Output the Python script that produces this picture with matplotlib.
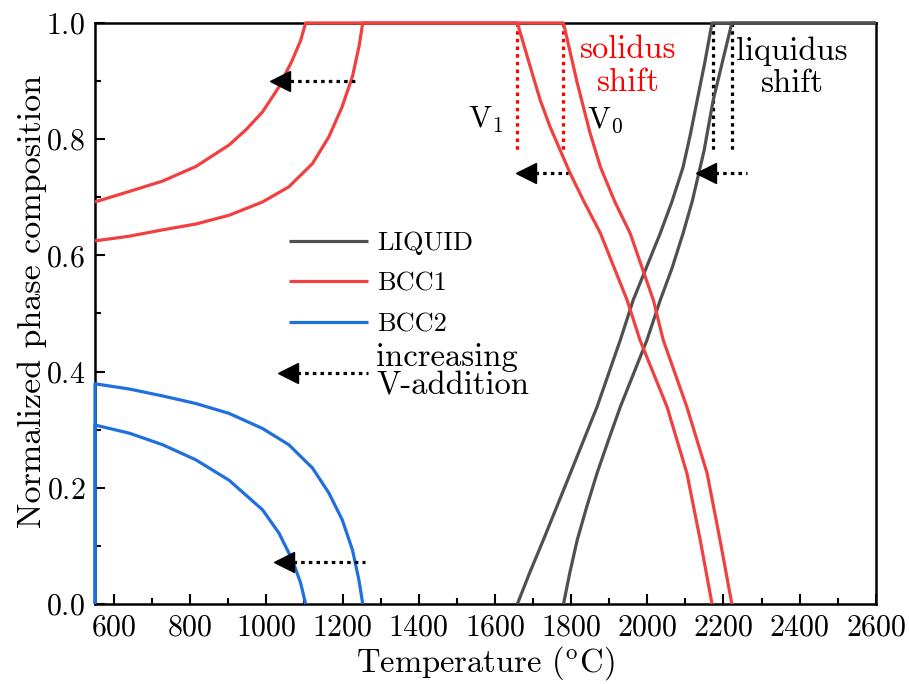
import matplotlib
matplotlib.use("Agg")
import matplotlib.pyplot as plt
from matplotlib.ticker import MultipleLocator

plt.rcParams["font.family"] = "cmr10"
plt.rcParams["mathtext.fontset"] = "cm"
plt.rcParams["axes.formatter.use_mathtext"] = True

# LIQUID fraction (V0 = base alloy, V1 = with V addition)
liq_v0_T = [1780, 1797, 1816, 1840, 1868, 1897, 1929, 1999, 2034, 2065, 2094, 2118, 2139,
            2149, 2173, 2198, 2222, 2600]
liq_v0 = [0, 0.055, 0.11, 0.165, 0.225, 0.28, 0.339, 0.454, 0.523, 0.578, 0.638, 0.693, 0.752,
          0.78, 0.867, 0.935, 1.0, 1.0]
liq_v1_T = [1659, 1692, 1727, 1798, 1868, 1929, 1963, 2034, 2065, 2094, 2113, 2131, 2151,
            2170, 2600]
liq_v1 = [0, 0.055, 0.11, 0.225, 0.339, 0.454, 0.523, 0.638, 0.693, 0.752, 0.808, 0.867, 0.932,
          1.0, 1.0]

# BCC1 fraction
bcc1_v0_T = [550, 640, 728, 815, 902, 990, 1059, 1121, 1164, 1199, 1226, 1243, 1253,
             1780, 1816, 1850, 1877, 1915, 1955, 2016, 2042, 2104, 2157, 2191, 2222]
bcc1_v0 = [0.625, 0.633, 0.644, 0.654, 0.669, 0.692, 0.718, 0.758, 0.804, 0.856, 0.908, 0.959, 1.0,
           1.0, 0.897, 0.81, 0.752, 0.692, 0.638, 0.523, 0.454, 0.339, 0.225, 0.11, 0.0]
bcc1_v1_T = [550, 640, 728, 815, 902, 946, 990, 1033, 1068, 1090, 1103,
             1659, 1693, 1719, 1745, 1797, 1832, 1877, 1947, 1981, 2052, 2104, 2139, 2170]
bcc1_v1 = [0.692, 0.710, 0.728, 0.753, 0.790, 0.816, 0.847, 0.890, 0.936, 0.970, 1.0,
           1.0, 0.924, 0.867, 0.821, 0.742, 0.695, 0.638, 0.523, 0.454, 0.339, 0.225, 0.11, 0.0]

# BCC2 fraction
bcc2_v0_T = [550, 550, 640, 728, 815, 902, 990, 1059, 1121, 1164, 1199, 1226, 1243, 1253]
bcc2_v0 = [0, 0.379, 0.370, 0.358, 0.345, 0.328, 0.302, 0.274, 0.234, 0.191, 0.145, 0.093, 0.041, 0.0]
bcc2_v1_T = [550, 550, 640, 728, 815, 902, 990, 1033, 1068, 1090, 1103]
bcc2_v1 = [0, 0.308, 0.294, 0.274, 0.248, 0.213, 0.162, 0.122, 0.076, 0.036, 0.0]

# arrows: (y, tip T, tail T)
arrows = [(0.9, 1011, 1243), (0.073, 1019, 1258), (0.742, 1656, 1793),
          (0.742, 2128, 2262), (0.398, 1030, 1266)]

GRAY = "#505050"
RED = "#f04040"
BLUE = "#1f6fdf"

fig = plt.figure(figsize=(9.09, 6.84), dpi=100)
ax = fig.add_axes([0.1045, 0.117, 0.859, 0.8494])

lw = 2.3
kw = dict(lw=lw, clip_on=False, zorder=3, solid_capstyle="butt", solid_joinstyle="round")
ax.plot(liq_v0_T, liq_v0, color=GRAY, label="LIQUID", **kw)
ax.plot(liq_v1_T, liq_v1, color=GRAY, **kw)
ax.plot(bcc1_v0_T, bcc1_v0, color=RED, label="BCC1", **kw)
ax.plot(bcc1_v1_T, bcc1_v1, color=RED, **kw)
ax.plot(bcc2_v0_T, bcc2_v0, color=BLUE, label="BCC2", **kw)
ax.plot(bcc2_v1_T, bcc2_v1, color=BLUE, **kw)

# solidus / liquidus markers
for t in (1659, 1780):
    ax.plot([t, t], [1.0, 0.78], color="red", lw=2.3, ls=(0, (1.1, 1.3)), zorder=2)
for t in (2173, 2222):
    ax.plot([t, t], [1.0, 0.78], color="black", lw=2.3, ls=(0, (1.1, 1.3)), zorder=2)

# dotted arrows pointing to lower temperature
for y, tip, tail in arrows:
    ax.plot([tip + 50, tail], [y, y], color="black", lw=2.3, ls=(0, (1.1, 1.3)), zorder=4)
    ax.plot(tip + 26, y, marker="<", ms=15, color="black", mec="black", zorder=4)

ax.text(1575, 0.833, "V$_1$", fontsize=22, ha="center", va="center")
ax.text(1890, 0.833, "V$_0$", fontsize=22, ha="center", va="center")
ax.text(1950, 0.926, "solidus\nshift", fontsize=23.5, color="red", ha="center", va="center",
        linespacing=1.15)
ax.text(2380, 0.924, "liquidus\nshift", fontsize=23.5, ha="center", va="center",
        linespacing=1.15)
ax.text(1289, 0.4, "increasing\nV-addition", fontsize=23.5, ha="left", va="center",
        linespacing=1.0)

leg = ax.legend(loc="upper left", bbox_to_anchor=(0.248, 0.641), frameon=False,
                fontsize=19, handlelength=3.0, handletextpad=0.35, labelspacing=0.63,
                borderpad=0, borderaxespad=0)

ax.set_xlim(550, 2600)
ax.set_ylim(0, 1.0)
ax.xaxis.set_major_locator(MultipleLocator(200))
ax.xaxis.set_minor_locator(MultipleLocator(100))
ax.yaxis.set_major_locator(MultipleLocator(0.2))
ax.yaxis.set_minor_locator(MultipleLocator(0.1))
ax.set_xticks(range(600, 2601, 200))
ax.tick_params(which="both", direction="in", top=False, right=False, labelsize=21.5, width=1.5)
ax.tick_params(which="major", length=7, pad=7)
ax.tick_params(which="minor", length=4)
for s in ax.spines.values():
    s.set_linewidth(1.8)

ax.set_xlabel("Temperature ($^{\\rm o}$C)", fontsize=23.5, labelpad=2)
ax.set_ylabel("Normalized phase composition", fontsize=24.5)
ax.yaxis.set_label_coords(-0.062, 0.52)

fig.savefig("out.png", dpi=100)
